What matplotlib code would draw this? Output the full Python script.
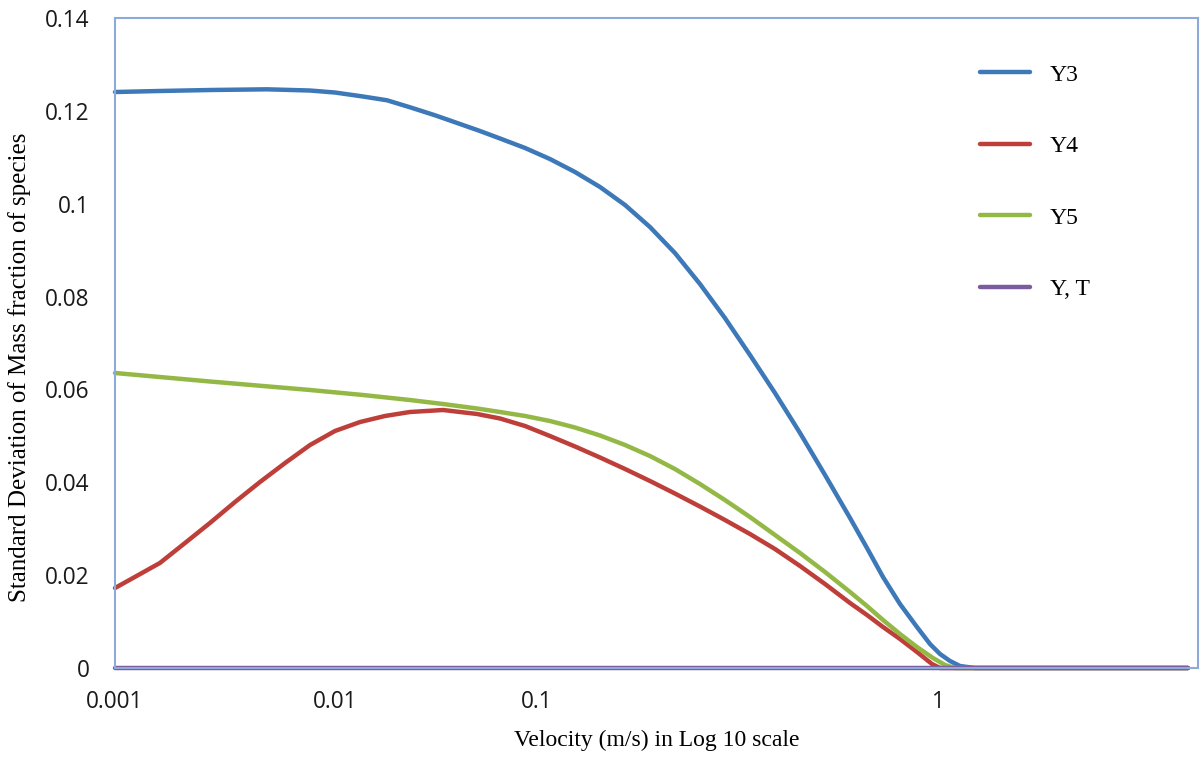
import numpy as np
import matplotlib
matplotlib.use("Agg")
import matplotlib.pyplot as plt

# velocity (m/s) sample points
vel_y3 = [0.001, 0.0016, 0.0027, 0.00491, 0.0077, 0.01, 0.01376, 0.01809, 0.02351, 0.03126,
          0.04158, 0.05221, 0.0656, 0.0873, 0.1077, 0.1244, 0.1436, 0.1658, 0.1913, 0.2208,
          0.2549, 0.2942, 0.3397, 0.3922, 0.4528, 0.5227, 0.6034, 0.6651, 0.7292, 0.8039,
          0.8862, 0.955, 1.0116, 1.0713, 1.1347, 1.2369, 2.0, 4.2]
y3 = [0.12406, 0.12428, 0.12449, 0.12464, 0.12438, 0.12395, 0.12309, 0.12228, 0.12077, 0.11905,
      0.11717, 0.11566, 0.11405, 0.11200, 0.10963, 0.10683, 0.10360, 0.09972, 0.09498, 0.08938,
      0.08271, 0.07538, 0.06742, 0.05923, 0.05062, 0.04157, 0.03231, 0.02585, 0.01960, 0.01378,
      0.00883, 0.00517, 0.00302, 0.00151, 0.00043, 0.0, 0.0, 0.0]

vel_y4 = [0.001, 0.00123, 0.0016, 0.00208, 0.0027, 0.00351, 0.00456, 0.00593, 0.0077, 0.01,
          0.0133, 0.01768, 0.02351, 0.03424, 0.0505, 0.0656, 0.0873, 0.1077, 0.1244, 0.1436,
          0.1658, 0.1913, 0.2208, 0.2549, 0.2942, 0.3397, 0.3922, 0.4528, 0.5227, 0.6034,
          0.6651, 0.7292, 0.8039, 0.8862, 0.9661, 1.0116, 2.0, 4.2]
y4 = [0.01723, 0.01960, 0.02262, 0.02692, 0.03123, 0.03575, 0.04006, 0.04415, 0.04803, 0.05105,
      0.05298, 0.05428, 0.05514, 0.05557, 0.05471, 0.05374, 0.05212, 0.04997, 0.04771, 0.04534,
      0.04286, 0.04028, 0.03758, 0.03478, 0.03188, 0.02886, 0.02563, 0.02197, 0.01809, 0.01400,
      0.01142, 0.00883, 0.00625, 0.00345, 0.00086, 0.0, 0.0, 0.0]

vel_y5 = [0.001, 0.0027, 0.0077, 0.01376, 0.02351, 0.03424, 0.0505, 0.0656, 0.0873, 0.1077,
          0.1244, 0.1436, 0.1658, 0.1913, 0.2208, 0.2549, 0.2942, 0.3397, 0.3922, 0.4528,
          0.5227, 0.6034, 0.6651, 0.7292, 0.8039, 0.8862, 0.9716, 1.041, 1.1025, 2.0, 4.2]
y5 = [0.06354, 0.06171, 0.05988, 0.05880, 0.05772, 0.05686, 0.05589, 0.05514, 0.05428, 0.05320,
      0.05180, 0.05008, 0.04803, 0.04566, 0.04286, 0.03963, 0.03618, 0.03252, 0.02865, 0.02477,
      0.02068, 0.01637, 0.01335, 0.01034, 0.00732, 0.00452, 0.00215, 0.00065, 0.0, 0.0, 0.0]

vel_yt = [0.001, 4.2]
yt = [0.0, 0.0]

xtick_vals = [0.001, 0.01, 0.1, 1]
xtick_labels = ["0.001", "0.01", "0.1", "1"]
ytick_vals = [0, 0.02, 0.04, 0.06, 0.08, 0.1, 0.12, 0.14]
ytick_labels = ["0", "0.02", "0.04", "0.06", "0.08", "0.1", "0.12", "0.14"]

# the decades on the original axis are not equally wide
log_anchor = np.array([-6.0, -3.0, -2.0, -1.0, 0.0, 3.0])
pos_anchor = np.array([-660.0, 0.0, 220.0, 422.0, 823.0, 2026.0])


def fwd(v):
    v = np.asarray(v, dtype=float)
    lv = np.log10(np.clip(v, 1e-6, None))
    return np.interp(lv, log_anchor, pos_anchor)


def inv(p):
    p = np.asarray(p, dtype=float)
    return 10 ** np.interp(p, pos_anchor, log_anchor)


fig = plt.figure(figsize=(12.02, 7.59), dpi=100)
ax = fig.add_axes([115 / 1202, 1 - 668 / 759, 1083 / 1202, 650 / 759])
ax.set_xscale("function", functions=(fwd, inv))

lw = 3.2
kw = dict(lw=lw, clip_on=False, solid_capstyle="round", solid_joinstyle="round")
ax.plot(vel_y3, y3, color="#3D78B8", label="Y3", **kw)
ax.plot(vel_y4, y4, color="#BE3F3A", label="Y4", **kw)
ax.plot(vel_y5, y5, color="#94B845", label="Y5", **kw)
ax.plot(vel_yt, yt, color="#7B5C9E", label="Y, T", **kw)

ax.set_xlim(0.001, inv(1083))
ax.set_ylim(0, 0.14)
ax.set_xticks(xtick_vals)
ax.set_xticklabels(xtick_labels)
ax.xaxis.set_minor_locator(matplotlib.ticker.NullLocator())
ax.set_yticks(ytick_vals)
ax.set_yticklabels(ytick_labels)
ax.tick_params(axis="both", length=0, labelsize=16.3, colors="#1a1a1a")
for lab in ax.get_xticklabels() + ax.get_yticklabels():
    lab.set_fontfamily("Open Sans")
ax.tick_params(axis="y", pad=18.5)
ax.tick_params(axis="x", pad=16)

for s in ax.spines.values():
    s.set_color("#8EAADB")
    s.set_linewidth(1.5)

serif = "Liberation Serif"
ax.set_xlabel("Velocity (m/s) in Log 10 scale", fontfamily=serif, fontsize=17, labelpad=11)
ax.set_ylabel("Standard Deviation of Mass fraction of species", fontfamily=serif, fontsize=18, labelpad=10)
ax.yaxis.set_label_coords(-0.078, 0.463)

ax.legend(loc="upper left", bbox_to_anchor=(980 / 1202, 1 - 64 / 759), bbox_transform=fig.transFigure,
          frameon=False, prop={"family": serif, "size": 17}, labelspacing=2.12,
          handlelength=2.1, handletextpad=0.85, borderpad=0, borderaxespad=0)

fig.savefig("out.png", dpi=100)
